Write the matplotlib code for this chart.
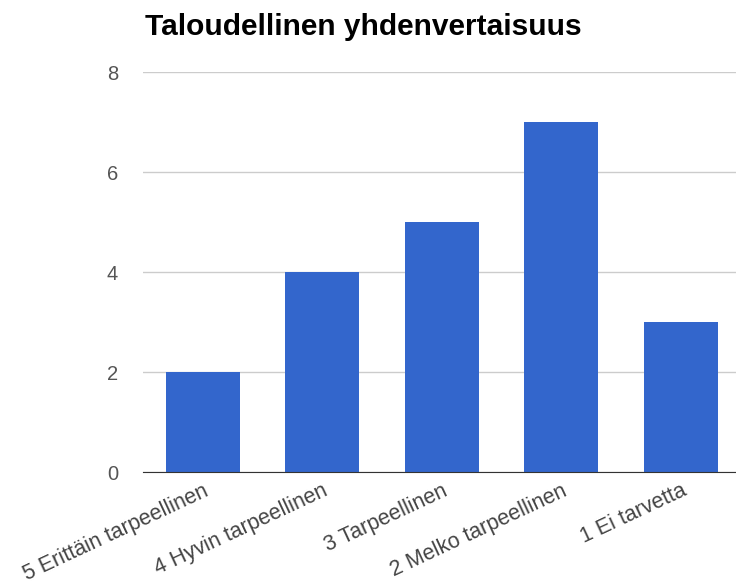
import matplotlib.pyplot as plt

categories = ["5 Erittäin tarpeellinen", "4 Hyvin tarpeellinen", "3 Tarpeellinen",
              "2 Melko tarpeellinen", "1 Ei tarvetta"]
values = [2, 4, 5, 7, 3]
yticks = [0, 2, 4, 6, 8]

plt.rcParams['font.family'] = ['Liberation Sans', 'DejaVu Sans']

fig = plt.figure(figsize=(7.36, 5.87), dpi=100)
ax = fig.add_axes([143 / 736, 1 - 472 / 587, 597.5 / 736, 400 / 587])

x = list(range(len(categories)))
ax.bar(x, values, width=0.62, color="#3366cc", zorder=3)
ax.set_xlim(-0.5, len(categories) - 0.5)
ax.set_ylim(0, 8)
ax.set_yticks(yticks)
ax.set_yticklabels([str(v) for v in yticks], fontsize=14.5, color="#555555")
ax.yaxis.grid(True, color="#cccccc", linewidth=1, zorder=0)
ax.tick_params(axis='y', length=0, pad=18)
ax.tick_params(axis='x', length=0, pad=6)
ax.set_xticks(x)
ax.set_xticklabels(categories, rotation=25, ha='right', va='top',
                   rotation_mode='anchor', fontsize=15.5, color="#444444")
for s in ['top', 'right', 'left']:
    ax.spines[s].set_visible(False)
ax.spines['bottom'].set_color("#333333")
ax.spines['bottom'].set_zorder(4)

fig.text(145 / 736, 1 - 27 / 587, "Taloudellinen yhdenvertaisuus", fontsize=21.5,
         fontweight='bold', va='center', ha='left', color="#000000")

fig.savefig("out.png", dpi=100)
